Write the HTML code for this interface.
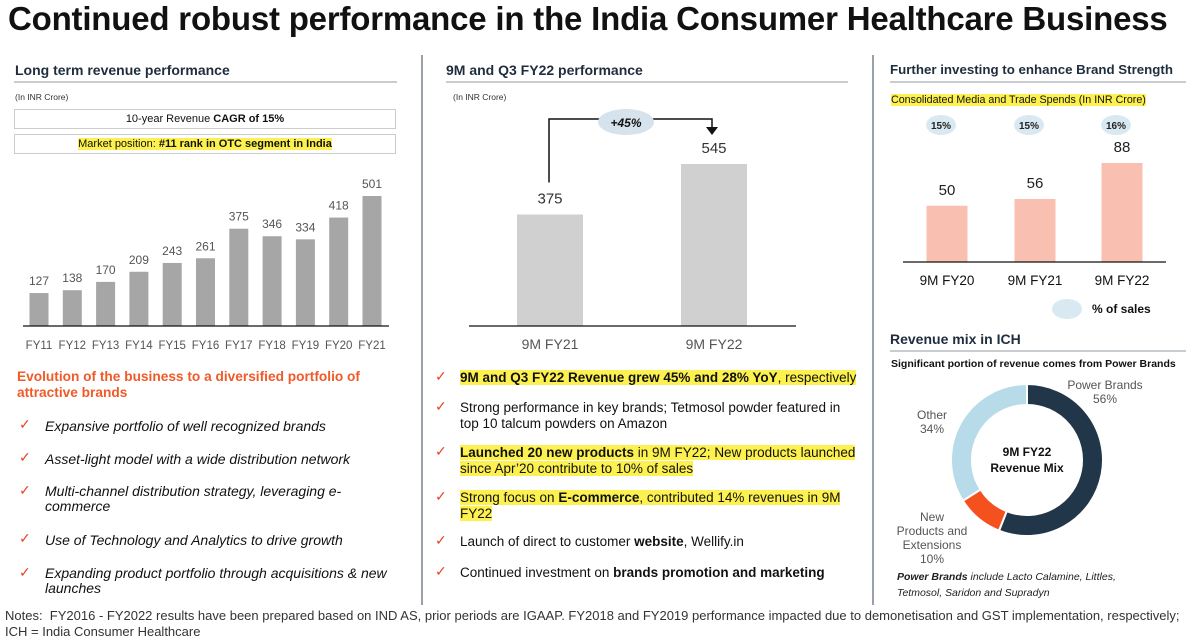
<!DOCTYPE html>
<html><head><meta charset="utf-8">
<style>
*{margin:0;padding:0;box-sizing:border-box}
body{width:1200px;height:634px;overflow:hidden;background:#fff;font-family:"Liberation Sans",sans-serif;color:#111;position:relative}
.a{position:absolute;white-space:nowrap}
.h2{font-weight:bold;font-size:14px;color:#1f2d3d}
.rule{position:absolute;height:2px;background:#c8cdd2}
.vline{position:absolute;width:2px;background:#9aa0a8;top:55px;height:550px}
.hl{background:#fdf14f}
.chk{position:absolute;color:#e8452c;font-size:14px}
.lb{font-size:14px;font-style:italic;color:#111}
.mb{font-size:13.5px;color:#111;line-height:16px;white-space:normal}
</style></head><body>
<div class="a" style="left:8px;top:0px;font-size:33px;font-weight:bold;color:#111;letter-spacing:-0.2px">Continued robust performance in the India Consumer Healthcare Business</div>

<div class="vline" style="left:421px"></div>
<div class="vline" style="left:872px"></div>

<!-- Left panel -->
<div class="a h2" style="left:15px;top:62px">Long term revenue performance</div>
<div class="rule" style="left:14px;top:81px;width:383px"></div>
<div class="a" style="left:15px;top:92px;font-size:8.5px;color:#333">(In INR Crore)</div>
<div class="a" style="left:14px;top:109px;width:382px;height:20px;border:1px solid #ccc;text-align:center;font-size:11px;line-height:18px">10-year Revenue <b>CAGR of 15%</b></div>
<div class="a" style="left:14px;top:134px;width:382px;height:20px;border:1px solid #ccc;text-align:center;font-size:11px;line-height:18px"><span class="hl">Market position: <b>#11 rank in OTC segment in India</b></span></div>

<svg class="a" style="left:0;top:0" width="1200" height="634">
<g id="lt"></g>
<g id="mid"></g>
<g id="spend"></g>
<g id="donut"></g>
</svg>

<div class="a" style="left:17px;top:369px;font-size:13.7px;font-weight:bold;color:#f05a28;line-height:16px">Evolution of the business to a diversified portfolio of<br>attractive brands</div>
<div class="chk" style="left:19px;top:416px">✓</div>
<div class="a lb" style="left:45px;top:418px">Expansive portfolio of well recognized brands</div>
<div class="chk" style="left:19px;top:449px">✓</div>
<div class="a lb" style="left:45px;top:451px">Asset-light model with a wide distribution network</div>
<div class="chk" style="left:19px;top:482px">✓</div>
<div class="a lb" style="left:45px;top:484px;line-height:15px">Multi-channel distribution strategy, leveraging e-<br>commerce</div>
<div class="chk" style="left:19px;top:530px">✓</div>
<div class="a lb" style="left:45px;top:532px">Use of Technology and Analytics to drive growth</div>
<div class="chk" style="left:19px;top:564px">✓</div>
<div class="a lb" style="left:45px;top:566px;line-height:15px">Expanding product portfolio through acquisitions &amp; new<br>launches</div>

<!-- Middle panel -->
<div class="a h2" style="left:446px;top:62px">9M and Q3 FY22 performance</div>
<div class="rule" style="left:446px;top:81px;width:402px"></div>
<div class="a" style="left:453px;top:92px;font-size:8.5px;color:#333">(In INR Crore)</div>

<div class="chk" style="left:435px;top:368px">✓</div>
<div class="a mb" style="left:460px;top:370px"><span class="hl"><b>9M and Q3 FY22 Revenue grew 45% and 28% YoY</b>, respectively</span></div>
<div class="chk" style="left:435px;top:398px">✓</div>
<div class="a mb" style="left:460px;top:400px;width:420px">Strong performance in key brands; Tetmosol powder featured in<br>top 10 talcum powders on Amazon</div>
<div class="chk" style="left:435px;top:443px">✓</div>
<div class="a mb" style="left:460px;top:445px;width:420px"><span class="hl"><b>Launched 20 new products</b> in 9M FY22; New products launched<br>since Apr’20 contribute to 10% of sales</span></div>
<div class="chk" style="left:435px;top:488px">✓</div>
<div class="a mb" style="left:460px;top:490px;width:420px"><span class="hl">Strong focus on <b>E-commerce</b>, contributed 14% revenues in 9M<br>FY22</span></div>
<div class="chk" style="left:435px;top:532px">✓</div>
<div class="a mb" style="left:460px;top:534px">Launch of direct to customer <b>website</b>, Wellify.in</div>
<div class="chk" style="left:435px;top:563px">✓</div>
<div class="a mb" style="left:460px;top:565px">Continued investment on <b>brands promotion and marketing</b></div>

<!-- Right panel -->
<div class="a h2" style="left:890px;top:62px;font-size:13.3px">Further investing to enhance Brand Strength</div>
<div class="rule" style="left:890px;top:81px;width:296px"></div>
<div class="a" style="left:891px;top:94px;font-size:10.7px"><span class="hl">Consolidated Media and Trade Spends (In INR Crore)</span></div>
<div class="a" style="left:1092px;top:302px;font-size:12px;font-weight:bold">% of sales</div>

<div class="a h2" style="left:890px;top:331px">Revenue mix in ICH</div>
<div class="rule" style="left:890px;top:350px;width:296px"></div>
<div class="a" style="left:891px;top:358px;font-size:10.5px;font-weight:bold">Significant portion of revenue comes from Power Brands</div>
<div class="a" style="left:897px;top:569px;font-size:10.5px;font-style:italic;line-height:16px;color:#222"><b>Power Brands</b> include Lacto Calamine, Littles,<br>Tetmosol, Saridon and Supradyn</div>

<div class="a" style="left:5px;top:608px;font-size:13px;color:#333;line-height:16px">Notes:&nbsp; FY2016 - FY2022 results have been prepared based on IND AS, prior periods are IGAAP. FY2018 and FY2019 performance impacted due to demonetisation and GST implementation, respectively;<br>ICH = India Consumer Healthcare</div>

<script>
const NS="http://www.w3.org/2000/svg";
const ltCats=["FY11","FY12","FY13","FY14","FY15","FY16","FY17","FY18","FY19","FY20","FY21"];
const ltVals=[127,138,170,209,243,261,375,346,334,418,501];
const midCats=["9M FY21","9M FY22"];
const midVals=[375,545];
const spCats=["9M FY20","9M FY21","9M FY22"];
const spVals=[50,56,88];
const spPct=["15%","15%","16%"];
const mixLabels=["Power Brands","New Products and Extensions","Other"];
const mixVals=[56,10,34];

function mk(parent,tag,attrs,text){const e=document.createElementNS(NS,tag);for(const k in attrs)e.setAttribute(k,attrs[k]);if(text!==undefined)e.textContent=text;parent.appendChild(e);return e;}

(function(){
 const g=document.getElementById('lt');
 const base=326, k=130/501, x0=39, step=33.3, bw=19;
 ltVals.forEach((v,i)=>{
  const cx=x0+i*step, h=v*k;
  const r=mk(g,'rect',{x:cx-bw/2,y:base-h,width:bw,height:h,fill:'#a6a6a6'});
  
  
  const t=mk(g,'text',{x:cx,y:base-h-8,'text-anchor':'middle','font-size':12,fill:'#555'},String(v));
  
  
  const c=mk(g,'text',{x:cx,y:349,'text-anchor':'middle','font-size':11.5,fill:'#555'},ltCats[i]);
  
  
 });
 const ax=mk(g,'line',{x1:23,x2:389,y1:base,y2:base,stroke:'#111','stroke-width':1.2});
 
 
})();

(function(){
 const g=document.getElementById('mid');
 const base=326, k=162/545, xs=[550,714], bw=66;
 const tops=[];
 midVals.forEach((v,i)=>{
  const h=v*k; tops.push(base-h);
  const r=mk(g,'rect',{x:xs[i]-bw/2,y:base-h,width:bw,height:h,fill:'#d0d0d0'});
  
  
  const t=mk(g,'text',{x:xs[i],y:base-h-11,'text-anchor':'middle','font-size':15,fill:'#333'},String(v));
  
  
  const c=mk(g,'text',{x:xs[i],y:349,'text-anchor':'middle','font-size':14,fill:'#555'},midCats[i]);
  
  
 });
 const ax=mk(g,'line',{x1:469,x2:796,y1:base,y2:base,stroke:'#111','stroke-width':1.2});
 
 
 const cy=119;
 const p=mk(g,'path',{d:`M${xs[0]-1},${tops[0]-32} V${cy} H${xs[1]-2} V${tops[1]-36}`,fill:'none',stroke:'#111','stroke-width':1.5});
 
 
 const ar=mk(g,'path',{d:`M${xs[1]-8},${tops[1]-37} L${xs[1]+4},${tops[1]-37} L${xs[1]-2},${tops[1]-29} Z`,fill:'#111'});
 
 
 const gr=(midVals[1]/midVals[0]-1)*100;
 const el=mk(g,'ellipse',{cx:626,cy:122,rx:28,ry:13,fill:'#d6e2ec'});
 
 
 const gt=mk(g,'text',{x:626,y:127,'text-anchor':'middle','font-size':12,'font-weight':'bold','font-style':'italic',fill:'#111'},'+'+Math.round(gr)+'%');
 
 
})();

(function(){
 const g=document.getElementById('spend');
 const base=262, k=99/88, xs=[947,1035,1122], bw=41;
 spVals.forEach((v,i)=>{
  const h=v*k;
  const r=mk(g,'rect',{x:xs[i]-bw/2,y:base-h,width:bw,height:h,fill:'#f9bfb0'});
  
  
  const t=mk(g,'text',{x:xs[i],y:base-h-11,'text-anchor':'middle','font-size':15,fill:'#222'},String(v));
  
  
  const c=mk(g,'text',{x:xs[i],y:285,'text-anchor':'middle','font-size':13.5,fill:'#111'},spCats[i]);
  
  
  const e=mk(g,'ellipse',{cx:xs[i]-6,cy:125,rx:15,ry:10,fill:'#d9e9f1'});
  
  
  const pt=mk(g,'text',{x:xs[i]-6,y:129,'text-anchor':'middle','font-size':10,'font-weight':'bold',fill:'#222'},spPct[i]);
  
  
 });
 const ax=mk(g,'line',{x1:903,x2:1166,y1:base,y2:base,stroke:'#111','stroke-width':1.2});
 
 
 const le=mk(g,'ellipse',{cx:1067,cy:309,rx:15,ry:10,fill:'#d9e9f1'});
 
 
})();

(function(){
 const g=document.getElementById('donut');
 const cx=1027, cy=460, R=76, r=55;
 const colors=['#22364a','#f4511e','#b7dbe8'];
 const total=mixVals.reduce((a,b)=>a+b,0);
 let a0=0;
 mixVals.forEach((v,i)=>{
  const a1=a0+v/total*2*Math.PI;
  const P=(rad,a)=>[cx+rad*Math.sin(a),cy-rad*Math.cos(a)];
  const [x1,y1]=P(R,a0),[x2,y2]=P(R,a1),[x3,y3]=P(r,a1),[x4,y4]=P(r,a0);
  const lg=(a1-a0)>Math.PI?1:0;
  const s=mk(g,'path',{d:`M${x1},${y1} A${R},${R} 0 ${lg} 1 ${x2},${y2} L${x3},${y3} A${r},${r} 0 ${lg} 0 ${x4},${y4} Z`,fill:colors[i],stroke:'#fff','stroke-width':2});
  
  
  a0=a1;
 });
 const lab=[[1105,389,[mixLabels[0],mixVals[0]+'%']],[932,419,['Other',mixVals[2]+'%']],[932,521,['New','Products and','Extensions',mixVals[1]+'%']]];
 lab.forEach(l=>{
  const t=mk(g,'text',{x:l[0],y:l[1],'text-anchor':'middle','font-size':12,fill:'#555'});
  
  
  l[2].forEach((s,j)=>mk(t,'tspan',{x:l[0],dy:j?14:0},s));
 });
 const c1=mk(g,'text',{x:cx,y:456,'text-anchor':'middle','font-size':12,'font-weight':'bold',fill:'#111'},'9M FY22');
 
 
 const c2=mk(g,'text',{x:cx,y:472,'text-anchor':'middle','font-size':12,'font-weight':'bold',fill:'#111'},'Revenue Mix');
 
 
})();
</script>
</body></html>
